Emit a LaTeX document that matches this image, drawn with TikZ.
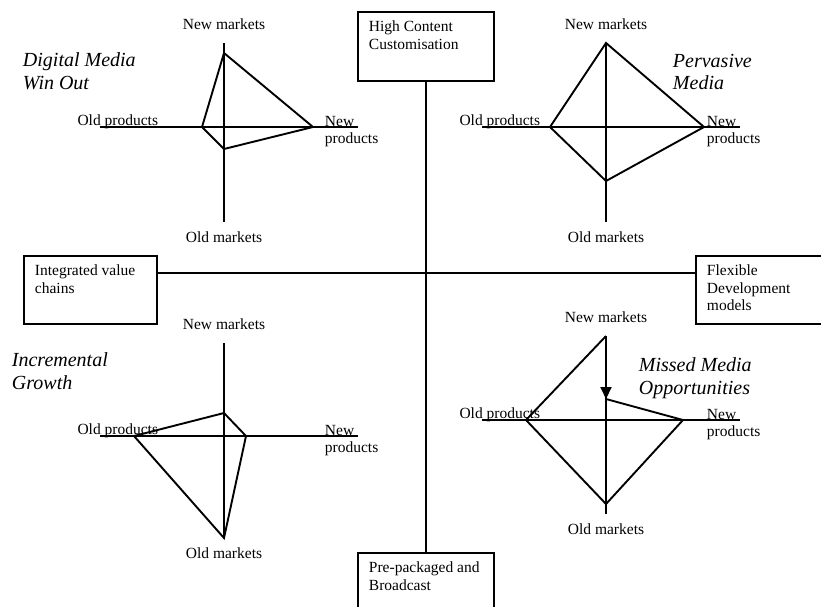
\documentclass[tikz,border=0pt]{standalone}
\usepackage{fontspec}
\setmainfont{Liberation Serif}
\usetikzlibrary{arrows.meta}

\begin{document}
\begin{tikzpicture}[x=1pt,y=-1pt,line width=1.9pt,
    font=\fontsize{15.5}{17.5}\selectfont,
    box/.style={draw,anchor=north west,inner xsep=11pt,inner ysep=9pt},
    lbl/.style={inner sep=0pt},
    title/.style={font=\fontsize{20}{22.5}\selectfont\itshape,align=left,anchor=north west,inner sep=0pt}]
    \clip (0,0) rectangle (821,606);
    % the four strategy boxes
    \node[box] (hcc) at (357,11) {\parbox[t][51pt][t]{114pt}{\raggedright High Content\\Customisation}};
    \node[box] (ppb) at (357,552) {\parbox[t][51pt][t]{114pt}{\raggedright Pre-packaged and\\Broadcast}};
    \node[box] (ivc) at (23,255) {\parbox[t][50pt][t]{111pt}{\raggedright Integrated value\\chains}};
    \node[box] (fdm) at (695,255) {\parbox[t][50pt][t]{111pt}{\raggedright Flexible\\Development\\models}};
    \coordinate (mid) at (425,273);
    \draw (hcc)--(ppb);
    \draw (ivc.east |- mid)--(fdm.west |- mid);
    % small product/market axes
    \foreach \q/\cx/\cy/\t/\b in {tl/224/127/84/95,tr/606/127/84/95,bl/224/436/93/102,br/606/420/84/94}{
        \draw (\cx-124,\cy)--(\cx+134,\cy);
        \draw (\cx,\cy-\t)--(\cx,\cy+\b);
        \node[lbl,anchor=base] (\q-nm) at (\cx,\cy-\t-14) {New markets};
        \node[lbl,anchor=base] (\q-om) at (\cx,\cy+\b+20) {Old markets};
        \node[lbl,anchor=base east] (\q-op) at (\cx-65,\cy-2) {Old products};
        \node[lbl,anchor=north west,align=left] (\q-np) at (\cx+100,\cy-12) {New\\products};
    }
    \node[title] (dmwo) at (22,52) {Digital Media\\Win Out};
    \node[title] (pm) at (672,53) {Pervasive\\Media};
    \node[title] (ig) at (11,352) {Incremental\\Growth};
    \node[title] (mmo) at (638,357) {Missed Media\\Opportunities};
    % shapes
    \draw (224,53)--(313,127)--(224,149)--(202,127)--cycle;
    \draw (606,43)--(704,127)--(606,181)--(550,127)--cycle;
    \draw (224,413)--(246,436)--(224,538)--(134,436)--cycle;
    \draw (606,399)--(683,420)--(606,504)--(526,420)--(606,336);
    \draw[-{Triangle[length=12pt,width=11pt]}] (606,336)--(606,399);
\end{tikzpicture}
\end{document}
